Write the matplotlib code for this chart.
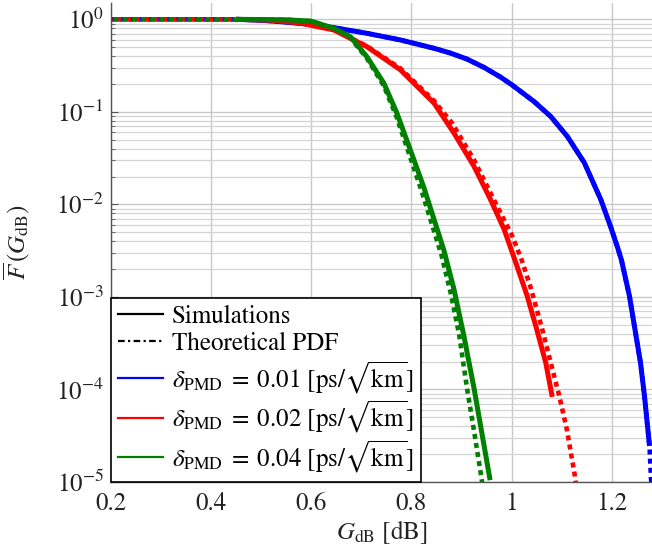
import matplotlib
matplotlib.use('Agg')
import matplotlib.pyplot as plt
from matplotlib.lines import Line2D
import numpy as np

plt.rcParams['font.family'] = ['STIXGeneral', 'DejaVu Serif']
plt.rcParams['mathtext.fontset'] = 'stix'

# values: x in dB, y as log10 of F-bar
sim_blue_x = [0.45, 0.50, 0.55, 0.60, 0.645, 0.711, 0.778, 0.845, 0.878, 0.911, 0.945, 0.978,
              1.001, 1.045, 1.078, 1.111, 1.145, 1.178, 1.198, 1.211, 1.219, 1.235, 1.246,
              1.257, 1.265, 1.275]
sim_blue_e = [0.0, -0.01, -0.03, -0.055, -0.09, -0.151, -0.223, -0.313, -0.365, -0.43, -0.52,
              -0.625, -0.71, -0.89, -1.05, -1.265, -1.55, -1.95, -2.25, -2.46, -2.6, -2.99,
              -3.35, -3.71, -4.07, -4.61]
th_blue_x = [0.2, 0.45, 0.50, 0.55, 0.60, 0.645, 0.711, 0.778, 0.845, 0.878, 0.911, 0.945, 0.978,
             1.001, 1.045, 1.078, 1.111, 1.145, 1.178, 1.198, 1.211, 1.219, 1.235, 1.246,
             1.257, 1.265, 1.275, 1.278, 1.280]
th_blue_e = [0.0, 0.0, -0.01, -0.03, -0.055, -0.09, -0.151, -0.223, -0.313, -0.365, -0.43, -0.52,
             -0.625, -0.71, -0.89, -1.05, -1.265, -1.55, -1.95, -2.25, -2.46, -2.6, -2.99,
             -3.35, -3.71, -4.07, -4.61, -4.96, -5.1]

sim_red_x = [0.45, 0.52, 0.578, 0.645, 0.711, 0.778, 0.845, 0.885, 0.925, 0.958, 0.985,
             1.007, 1.031, 1.05, 1.068, 1.081]
sim_red_e = [0.0, -0.01, -0.04, -0.115, -0.295, -0.546, -0.905, -1.23, -1.59, -1.95, -2.27,
             -2.61, -2.99, -3.35, -3.71, -4.08]
th_red_x = [0.2, 0.45, 0.52, 0.578, 0.645, 0.711, 0.778, 0.845, 0.881, 0.925, 0.96, 1.001,
            1.02, 1.038, 1.061, 1.078, 1.095, 1.11, 1.126, 1.130]
th_red_e = [0.0, 0.0, -0.01, -0.04, -0.11, -0.29, -0.53, -0.88, -1.12, -1.52, -1.9, -2.34,
            -2.6, -2.9, -3.35, -3.71, -4.07, -4.43, -4.93, -5.1]

sim_green_x = [0.45, 0.55, 0.60, 0.645, 0.678, 0.711, 0.745, 0.771, 0.80, 0.825, 0.845, 0.865,
               0.885, 0.905, 0.925, 0.957]
sim_green_e = [0.0, -0.005, -0.02, -0.097, -0.187, -0.403, -0.69, -1.013, -1.444, -1.82, -2.16,
               -2.50, -2.92, -3.43, -3.99, -4.98]
th_green_x = [0.2, 0.55, 0.60, 0.645, 0.678, 0.711, 0.745, 0.77, 0.795, 0.82, 0.84, 0.86, 0.878,
              0.895, 0.911, 0.925, 0.941, 0.945]
th_green_e = [0.0, -0.005, -0.02, -0.10, -0.20, -0.42, -0.72, -1.05, -1.45, -1.85, -2.2, -2.55,
              -2.95, -3.4, -3.99, -4.45, -5.0, -5.15]

pmd_labels = ['0.01', '0.02', '0.04']
colors = ['#0000ff', '#ff0000', '#008000']

sims = [(sim_blue_x, sim_blue_e), (sim_red_x, sim_red_e), (sim_green_x, sim_green_e)]
theo = [(th_blue_x, th_blue_e), (th_red_x, th_red_e), (th_green_x, th_green_e)]

fig = plt.figure(figsize=(6.52, 5.5), dpi=100)
ax = fig.add_axes([0.1698, 0.1236, 0.8302, 0.8709])

# theoretical curves first, simulations drawn on top
offsets = [0.0, 0.7, 1.4]
for (x, e), c, off in zip(theo, colors, offsets):
    ax.plot(x, 10.0 ** np.array(e), color=c, lw=3.3, linestyle=(off, (1.1, 0.9)),
            dash_capstyle='butt', zorder=3)
for (x, e), c in zip(sims, colors):
    ax.plot(x, 10.0 ** np.array(e), color=c, lw=3.6, solid_capstyle='butt',
            solid_joinstyle='round', zorder=4)

ax.set_yscale('log')
ax.set_xlim(0.2, 1.28)
ax.set_ylim(1e-5, 1.5)
ax.set_xticks([0.2, 0.4, 0.6, 0.8, 1.0, 1.2])
ax.set_xticklabels(['0.2', '0.4', '0.6', '0.8', '1', '1.2'])
ax.set_yticks([1e-5, 1e-4, 1e-3, 1e-2, 1e-1, 1e0])

ax.grid(True, which='major', color='#c8c8c8', lw=1.0)
ax.grid(True, which='minor', axis='y', color='#d4d4d4', lw=0.9)
ax.set_axisbelow(True)

for s in ['top', 'right']:
    ax.spines[s].set_visible(False)
for s in ['left', 'bottom']:
    ax.spines[s].set_color('#555555')
    ax.spines[s].set_linewidth(1.0)

ax.tick_params(axis='both', which='both', direction='in', colors='#555555',
               labelcolor='#222222', labelsize=18)
ax.tick_params(axis='x', which='major', length=0, pad=7)
ax.tick_params(axis='y', which='major', length=5, pad=5)
ax.tick_params(axis='y', which='minor', length=3)

ax.set_xlabel(r'$G_{\mathrm{dB}}$ [dB]', fontsize=18, color='#222222')
ax.set_ylabel(r'$\overline{F}\,(G_{\mathrm{dB}})$', fontsize=18, color='#222222')
ax.xaxis.set_label_coords(0.5, -0.075)
ax.yaxis.set_label_coords(-0.145, 0.5)

handles = [Line2D([], [], color='black', lw=1.6),
           Line2D([], [], color='black', lw=1.6, linestyle=(0, (3, 1.5, 1, 1.5)))]
labels = ['Simulations', 'Theoretical PDF']
for c, p in zip(colors, pmd_labels):
    handles.append(Line2D([], [], color=c, lw=1.6))
    labels.append(r'$\delta_{\mathrm{PMD}}\;=\;' + p + r'$ [ps/$\sqrt{\mathrm{km}}$]')

leg = ax.legend(handles, labels, loc='lower left', bbox_to_anchor=(0, 0), borderaxespad=0,
                fontsize=18, fancybox=False, framealpha=1, edgecolor='black',
                handlelength=1.8, handletextpad=0.35, labelspacing=0.12, borderpad=0.3)
leg.get_frame().set_linewidth(1.2)
leg.set_zorder(10)

fig.savefig('out.png', dpi=100)
